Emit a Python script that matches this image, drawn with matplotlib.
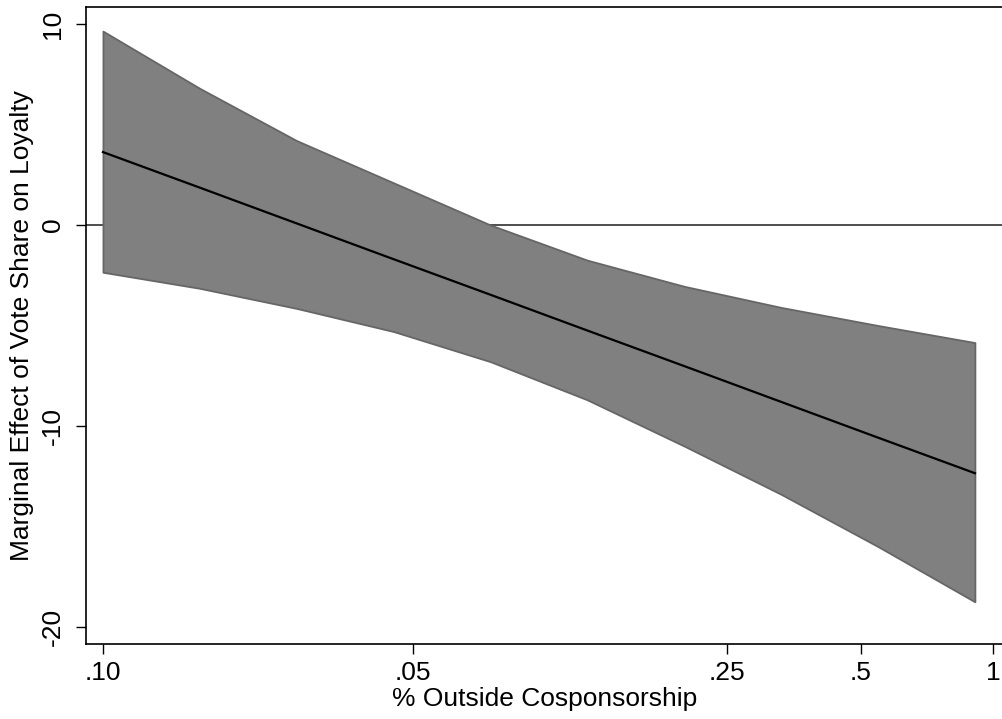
import matplotlib
matplotlib.use("Agg")
import matplotlib.pyplot as plt

plt.rcParams['font.family'] = ['Liberation Sans', 'DejaVu Sans']

# evaluation points (index along the transformed x scale)
x_idx = [0, 1, 2, 3, 4, 5, 6, 7, 8, 9]
effect = [3.63, 1.86, 0.08, -1.70, -3.47, -5.25, -7.02, -8.80, -10.58, -12.35]
upper = [9.65, 6.8, 4.2, 2.1, 0.0, -1.75, -3.05, -4.1, -5.0, -5.85]
lower = [-2.35, -3.15, -4.15, -5.3, -6.8, -8.7, -11.0, -13.4, -16.0, -18.75]

x_tick_pos = [0.0, 3.20, 6.44, 7.82, 9.19]
x_tick_labels = ['.10', '.05', '.25', '.5', '1']
y_ticks = [-20, -10, 0, 10]
y_tick_labels = ['-20', '-10', '0', '10']

fig = plt.figure(figsize=(10.03, 7.19), dpi=100)
ax = fig.add_axes([86/1003, 1 - 644/719, 1 - 86/1003, (644 - 7)/719])

ax.axhline(0, color='#404040', lw=1.3, zorder=1)
ax.fill_between(x_idx, lower, upper, facecolor='#808080', edgecolor='#666666',
                lw=1.3, zorder=2)
ax.plot(x_idx, effect, color='black', lw=1.6, zorder=3)

ax.set_xlim(-0.175, 9.29)
ax.set_ylim(-20.85, 10.85)

ax.set_xticks(x_tick_pos)
ax.set_xticklabels(x_tick_labels)
ax.set_yticks(y_ticks)
ax.set_yticklabels(y_tick_labels, rotation=90, va='center')

ax.tick_params(axis='both', direction='out', length=7, width=1.0, labelsize=19)
ax.tick_params(axis='y', pad=8)
ax.tick_params(axis='x', pad=5)

for s in ['left', 'bottom', 'top']:
    ax.spines[s].set_linewidth(1.2)
    ax.spines[s].set_color('black')
ax.spines['right'].set_visible(False)

ax.set_xlabel('% Outside Cosponsorship', fontsize=19, labelpad=2)
ax.set_ylabel('Marginal Effect of Vote Share on Loyalty', fontsize=19, labelpad=5)

fig.savefig('out.png', dpi=100)
